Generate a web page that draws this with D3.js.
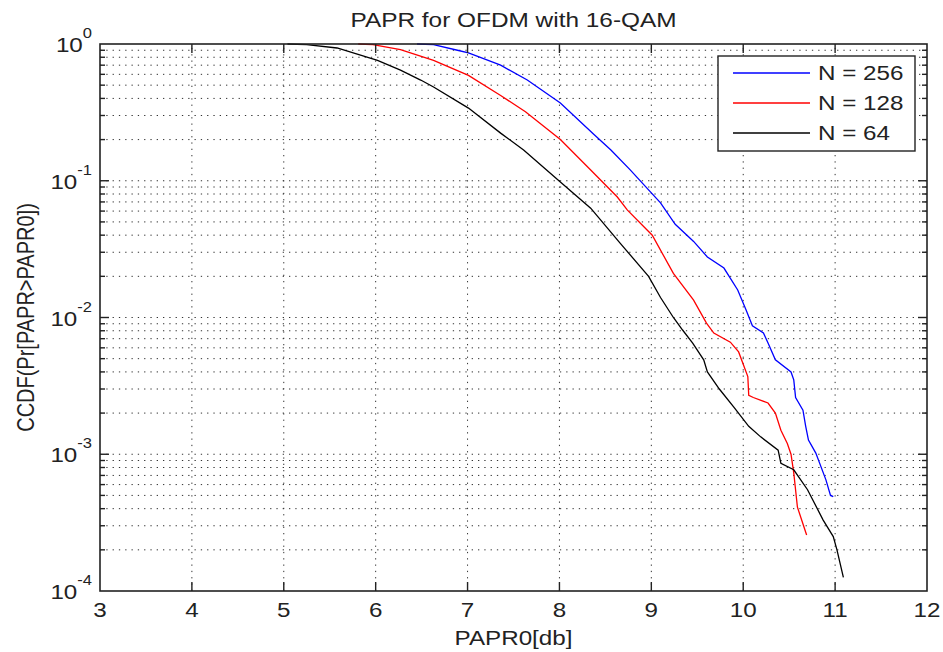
<!DOCTYPE html>
<html>
<head>
<meta charset="utf-8">
<script src="https://cdn.jsdelivr.net/npm/d3@7"></script>
<style>
  body { margin: 0; background: #fff; }
  text { font-family: "Liberation Sans", Arial, Helvetica, sans-serif; fill: #222; }
</style>
</head>
<body>
<div id="chart"></div>
<script>
// data: [PAPR0 dB, CCDF]
const seriesNames = ["N = 256", "N = 128", "N = 64"];
const seriesColors = ["#0000ff", "#ff0000", "#000000"];

const n256 = [
  [6.45, 1.0], [6.63, 0.99], [6.89, 0.9], [7.01, 0.86], [7.36, 0.7], [7.65, 0.545],
  [8.01, 0.37], [8.37, 0.22], [8.56, 0.168], [8.77, 0.12], [8.99, 0.083], [9.1, 0.069],
  [9.26, 0.048], [9.46, 0.036], [9.61, 0.0277], [9.79, 0.023], [9.94, 0.0159],
  [10.03, 0.0114], [10.1, 0.0087], [10.22, 0.0077], [10.27, 0.0065], [10.35, 0.0049],
  [10.52, 0.004], [10.55, 0.0035], [10.57, 0.0026], [10.65, 0.0021], [10.68, 0.0016],
  [10.71, 0.00127], [10.79, 0.00102], [10.9, 0.00065], [10.95, 0.0005], [10.98, 0.00049]
];
const n128 = [
  [5.81, 1.0], [5.97, 0.99], [6.27, 0.91], [6.63, 0.76], [7.01, 0.59], [7.36, 0.42],
  [7.63, 0.32], [8.01, 0.2], [8.34, 0.12], [8.63, 0.076], [8.74, 0.061], [9.01, 0.04],
  [9.24, 0.021], [9.46, 0.0134], [9.6, 0.0091], [9.68, 0.0077], [9.86, 0.0066],
  [9.95, 0.0056], [10.05, 0.0037], [10.06, 0.0027], [10.11, 0.0026], [10.27, 0.00237],
  [10.35, 0.002], [10.41, 0.0015], [10.48, 0.0012], [10.52, 0.001], [10.55, 0.00073],
  [10.59, 0.00041], [10.69, 0.000257]
];
const n64 = [
  [5.04, 1.0], [5.25, 0.99], [5.58, 0.935], [6.02, 0.76], [6.27, 0.645], [6.49, 0.545],
  [6.63, 0.485], [7.01, 0.34], [7.36, 0.223], [7.61, 0.168], [8.01, 0.098], [8.34, 0.063],
  [8.66, 0.035], [8.97, 0.02], [9.1, 0.014], [9.24, 0.01], [9.34, 0.0081], [9.45, 0.0065],
  [9.57, 0.0049], [9.61, 0.004], [9.74, 0.003], [9.9, 0.0022], [10.06, 0.0016],
  [10.19, 0.00134], [10.38, 0.00107], [10.41, 0.00086], [10.55, 0.00077], [10.7, 0.00055],
  [10.87, 0.00033], [10.98, 0.00025], [11.02, 0.0002], [11.09, 0.000126]
];
const allSeries = [n256, n128, n64];

const xTicks = [3, 4, 5, 6, 7, 8, 9, 10, 11, 12];
const yMajor = [1e-4, 1e-3, 1e-2, 1e-1, 1];
const yExponents = ["-4", "-3", "-2", "-1", "0"];

const width = 943, height = 652;
const plotLeft = 100, plotRight = 927, plotTop = 44, plotBottom = 591;
const sx = 1.18; // the picture is stretched sideways, so the text is too

const svg = d3.select("#chart").append("svg")
  .attr("width", width).attr("height", height);

const x = d3.scaleLinear().domain([3, 12]).range([plotLeft, plotRight]);
const y = d3.scaleLog().domain([1e-4, 1]).range([plotBottom, plotTop]);

// minor values for the log axis
const yMinor = [];
for (let e = -4; e < 0; e++) {
  for (let m = 2; m <= 9; m++) yMinor.push(m * Math.pow(10, e));
}

// dotted grid
const grid = svg.append("g").attr("stroke", "#333").attr("stroke-width", 1)
  .attr("stroke-dasharray", "1.3,5");
grid.selectAll(".gx").data(xTicks.slice(1, -1)).join("line")
  .attr("x1", d => x(d)).attr("x2", d => x(d)).attr("y1", plotBottom).attr("y2", plotTop);
grid.selectAll(".gy").data(yMinor.concat(yMajor.slice(1, -1))).join("line")
  .attr("x1", plotLeft).attr("x2", plotRight).attr("y1", d => y(d)).attr("y2", d => y(d));

// curves
const line = d3.line().x(d => x(d[0])).y(d => y(d[1]));
const plot = svg.append("g");
plot.selectAll("path").data(allSeries).join("path")
  .attr("d", line)
  .attr("fill", "none")
  .attr("stroke", (d, i) => seriesColors[i])
  .attr("stroke-width", 1.3);

// tick marks, inside on all four sides
const ticks = svg.append("g").attr("stroke", "#222").attr("stroke-width", 1.4);
ticks.selectAll(".tb").data(xTicks.slice(1, -1)).join("line")
  .attr("x1", d => x(d)).attr("x2", d => x(d)).attr("y1", plotBottom).attr("y2", plotBottom - 9);
ticks.selectAll(".tt").data(xTicks.slice(1, -1)).join("line")
  .attr("x1", d => x(d)).attr("x2", d => x(d)).attr("y1", plotTop).attr("y2", plotTop + 9);
const yt = yMajor.slice(1, -1).map(v => ({ v, len: 9 }))
  .concat(yMinor.map(v => ({ v, len: 5 })));
ticks.selectAll(".tl").data(yt).join("line")
  .attr("x1", plotLeft).attr("x2", d => plotLeft + d.len).attr("y1", d => y(d.v)).attr("y2", d => y(d.v));
ticks.selectAll(".tr").data(yt).join("line")
  .attr("x1", plotRight).attr("x2", d => plotRight - d.len).attr("y1", d => y(d.v)).attr("y2", d => y(d.v));

// axes box
svg.append("rect")
  .attr("x", plotLeft).attr("y", plotTop)
  .attr("width", plotRight - plotLeft).attr("height", plotBottom - plotTop)
  .attr("fill", "none").attr("stroke", "#222").attr("stroke-width", 1.6);

// x tick labels
svg.selectAll(".xl").data(xTicks).join("text")
  .attr("transform", d => `translate(${x(d)},617) scale(${sx},1)`)
  .attr("text-anchor", "middle").attr("font-size", 20.5)
  .text(d => d);

// y tick labels, 10 with a raised exponent
const yl = svg.selectAll(".yl").data(yMajor).join("text")
  .attr("transform", d => `translate(92,${y(d) + 8}) scale(${sx},1)`)
  .attr("text-anchor", "end").attr("font-size", 20.5);
yl.append("tspan").text("10");
yl.append("tspan").attr("dy", -14).attr("font-size", 14).text((d, i) => yExponents[i]);

// title and axis labels
svg.append("text")
  .attr("transform", `translate(${(plotLeft + plotRight) / 2},27) scale(1.22,1)`)
  .attr("text-anchor", "middle").attr("font-size", 20)
  .text("PAPR for OFDM with 16-QAM");
svg.append("text")
  .attr("transform", `translate(${(plotLeft + plotRight) / 2},645) scale(${sx},1)`)
  .attr("text-anchor", "middle").attr("font-size", 20.5)
  .text("PAPR0[db]");
svg.append("text")
  .attr("transform", `translate(34,${(plotTop + plotBottom) / 2}) scale(${sx},1) rotate(-90)`)
  .attr("text-anchor", "middle").attr("font-size", 20)
  .text("CCDF(Pr[PAPR>PAPR0])");

// legend
const legend = svg.append("g");
legend.append("rect")
  .attr("x", 718).attr("y", 56).attr("width", 197).attr("height", 95)
  .attr("fill", "#fff").attr("stroke", "#222").attr("stroke-width", 1.4);
const rows = legend.selectAll(".row").data(seriesNames).join("g")
  .attr("transform", (d, i) => `translate(0,${73 + i * 30})`);
rows.append("line")
  .attr("x1", 733).attr("x2", 810).attr("y1", 0).attr("y2", 0)
  .attr("stroke", (d, i) => seriesColors[i]).attr("stroke-width", 1.3);
rows.append("text")
  .attr("transform", `translate(818,7) scale(${sx},1)`)
  .attr("font-size", 20.5)
  .text(d => d);
</script>
</body>
</html>
